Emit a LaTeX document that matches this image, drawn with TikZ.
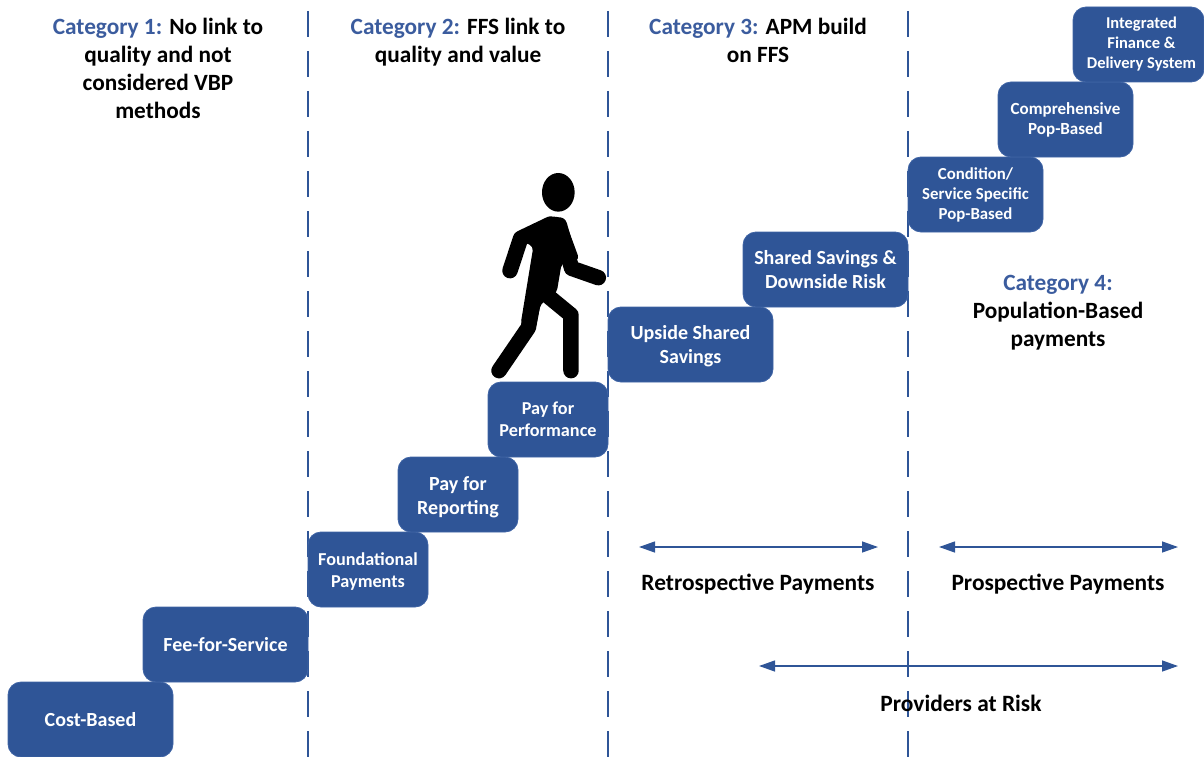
\documentclass[tikz,border=0pt]{standalone}
\usepackage{fontspec}
\setmainfont{Carlito}
\usetikzlibrary{arrows.meta}
\definecolor{boxblue}{HTML}{2F5597}
\definecolor{boxedge}{HTML}{3F64A5}
\definecolor{headblue}{HTML}{3B5C9E}
\tikzset{
  stepbox/.style 2 args={draw=boxedge,line width=0.8pt,fill=boxblue,rounded corners=13pt,inner sep=0pt,outer sep=0pt,
    text=white,align=center,font=\bfseries\fontsize{#1}{#2}\selectfont},
  heading/.style={align=center,font=\bfseries\fontsize{23.3}{28}\selectfont,inner sep=0pt},
  lbl/.style={font=\bfseries\fontsize{23.4}{28}\selectfont,inner sep=0pt},
  divider/.style={draw=boxblue,line width=1.3pt,dash pattern=on 26pt off 14pt},
  span/.style={draw=boxblue,line width=1.3pt,{Triangle[length=16pt,width=11pt]}-{Triangle[length=16pt,width=11pt]}},
  limb/.style={draw=black,line width=15.5pt,line cap=round,line join=round},
}
\newcommand{\boxat}[8]{\node[stepbox={#6}{#7},minimum width={(#4-#2)*1pt},minimum height={(#5-#3)*1pt}] (#1) at ({(#2+#4)/2},{(#3+#5)/2}) {#8};}
\newcommand{\rgt}{\hspace*{6pt}}
\begin{document}
\begin{tikzpicture}[x=1pt,y=-1pt]
\useasboundingbox (0,0) rectangle (1204,757);
\coordinate (d1a) at (308,11); \coordinate (d1b) at (308,757);
\coordinate (d2a) at (608,11); \coordinate (d2b) at (608,757);
\coordinate (d3a) at (908,11); \coordinate (d3b) at (908,757);
\draw[divider] (d1a) -- (d1b);
\draw[divider] (d2a) -- (d2b);
\draw[divider] (d3a) -- (d3b);

\boxat{cost}{8}{682}{173}{757}{20}{22}{Cost-Based}
\boxat{fee}{143}{607}{308}{682}{20}{22}{Fee-for-Service}
\boxat{found}{308}{532}{428}{607}{18.2}{22}{\rule{0pt}{16pt}Foundational\\Payments}
\boxat{rep}{398}{457}{518}{532}{20}{24}{\rule{0pt}{19pt}Pay for\\Reporting}
\boxat{perf}{488}{382}{608}{457}{18.2}{22}{Pay for\\Performance}
\boxat{up}{608}{307}{773}{382}{20}{24}{\rule{0pt}{17pt}Upside Shared\\Savings}
\boxat{down}{743}{232}{908}{307}{20}{24}{Shared Savings \&\\Downside Risk}
\boxat{cond}{908}{157}{1043}{232}{16.8}{20}{Condition/\\Service Specific\\Pop-Based}
\boxat{comp}{998}{82}{1133}{157}{17}{20}{Comprehensive\\Pop-Based}
\boxat{integ}{1073}{7}{1204}{82}{16.5}{20}{\rgt Integrated\\\rgt Finance \&\\\rgt Delivery System}

\node[heading] (c1) at (158,68) {{\color{headblue}Category 1:} No link to\\quality and not\\considered VBP\\methods};
\node[heading] (c2) at (458,42) {{\color{headblue}Category 2:} FFS link to\\quality and value};
\node[heading] (c3) at (758,40) {{\color{headblue}Category 3:} APM build\\on FFS};
\node[heading] (c4) at (1058,313) {{\color{headblue}Category 4:}\\Population-Based\\payments};

\coordinate (r1) at (639,547); \coordinate (r2) at (878,547);
\coordinate (p1) at (939,547); \coordinate (p2) at (1178,547);
\coordinate (k1) at (759,666); \coordinate (k2) at (1178,666);
\draw[span] (r1) -- (r2);
\draw[span] (p1) -- (p2);
\draw[span] (k1) -- (k2);
\node[lbl] (rl) at (758,584) {Retrospective Payments};
\node[lbl] (pl) at (1058,584) {Prospective Payments};
\node[lbl] (kl) at (961,703) {Providers at Risk};

% walking figure
\begin{scope}[shift={(480,160)},x=0.3333pt,y=-0.3333pt]
  \fill[black] (235,97) ellipse [x radius=49,y radius=58];
  \fill[black,rounded corners=4pt] (195,175) -- (235,168) -- (262,200) -- (298,298) -- (245,310) -- (230,398) -- (182,432) -- (165,512) -- (122,492) -- (160,260) -- (120,240) -- cycle;
  \draw[limb] (212,192) -- (122,235) -- (90,332);
  \draw[limb] (238,195) -- (275,325) -- (355,353);
  \draw[limb] (160,420) -- (145,503) -- (57,632);
  \draw[limb] (200,405) -- (273,465) -- (273,632);
\end{scope}
\end{tikzpicture}
\end{document}
